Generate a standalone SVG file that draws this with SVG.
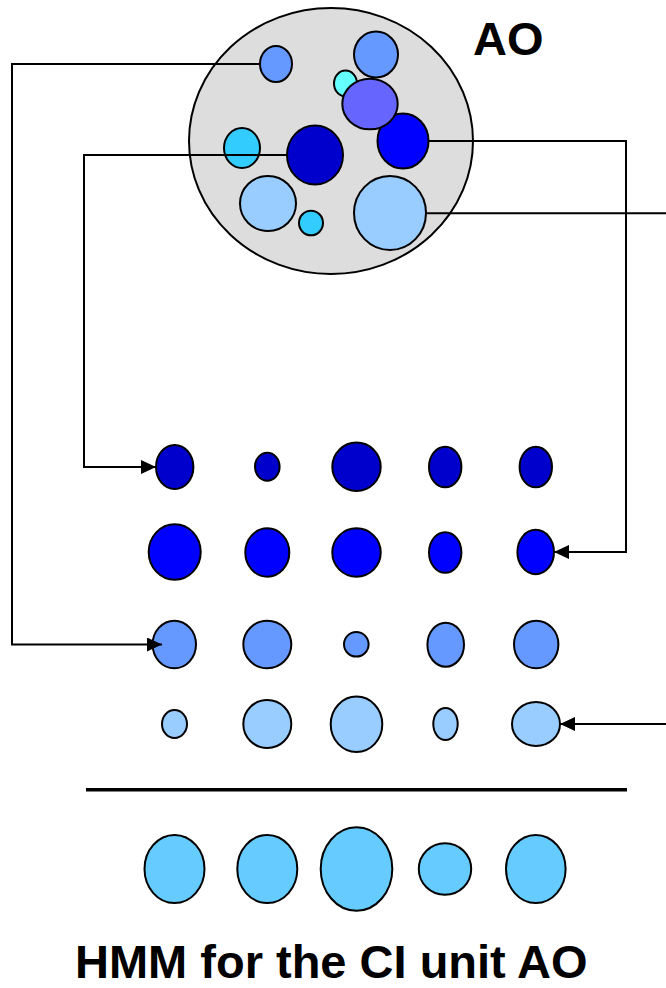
<svg xmlns="http://www.w3.org/2000/svg" width="666" height="988" viewBox="0 0 666 988">
<style>
.n{stroke:#000;stroke-width:2}
.c{fill:none;stroke:#000;stroke-width:2}
.t{font-family:"Liberation Sans",Arial,sans-serif;font-weight:bold;font-size:47px;fill:#000}
.dk{fill:#0000CC}.bl{fill:#0000FF}.md{fill:#6699FF}.lt{fill:#99CCFF}.sk{fill:#66CCFF}.cy{fill:#33CCFF}.aq{fill:#66FFFF}.pu{fill:#6666FF}
</style>
<defs>
<marker id="arr" viewBox="0 0 15 14" markerWidth="15" markerHeight="14" refX="15" refY="7" orient="auto" markerUnits="userSpaceOnUse">
<path d="M0,0 L15,7 L0,14 z" fill="#000"/>
</marker>
</defs>
<g id="ao-unit">
<ellipse class="n" cx="331" cy="141" rx="142" ry="133" fill="#DDDDDD"/>
<ellipse class="n md" cx="276" cy="64" rx="16" ry="18"/>
<ellipse class="n aq" cx="345.5" cy="83.5" rx="11.5" ry="13"/>
<ellipse class="n md" cx="376" cy="54.5" rx="22" ry="23"/>
<ellipse class="n bl" cx="403" cy="141" rx="25.5" ry="27.5"/>
<ellipse class="n pu" cx="370" cy="104" rx="27.7" ry="25.3"/>
<ellipse class="n cy" cx="242" cy="148" rx="18" ry="20"/>
<ellipse class="n dk" cx="315" cy="155" rx="28" ry="29.6"/>
<ellipse class="n lt" cx="268" cy="203.5" rx="28" ry="27.5"/>
<ellipse class="n cy" cx="311" cy="223" rx="12" ry="12.3"/>
<ellipse class="n lt" cx="390" cy="213" rx="36" ry="37"/>
</g>
<text id="ao-label" class="t" x="473" y="55">AO</text>
<g id="row1">
<ellipse class="n dk" cx="174.7" cy="467" rx="18.7" ry="22"/>
<ellipse class="n dk" cx="267.3" cy="466.7" rx="12.3" ry="14"/>
<ellipse class="n dk" cx="356.5" cy="466.8" rx="24.2" ry="24.2"/>
<ellipse class="n dk" cx="445.2" cy="467" rx="16.2" ry="20.3"/>
<ellipse class="n dk" cx="535.8" cy="467" rx="16.2" ry="20.3"/>
</g>
<g id="row2">
<ellipse class="n bl" cx="174.7" cy="552" rx="26" ry="27.8"/>
<ellipse class="n bl" cx="267.3" cy="552.5" rx="22" ry="24.2"/>
<ellipse class="n bl" cx="356.5" cy="552.5" rx="24.2" ry="24.2"/>
<ellipse class="n bl" cx="445.2" cy="552.5" rx="16.2" ry="20.2"/>
<ellipse class="n bl" cx="535.7" cy="552" rx="18.3" ry="22.2"/>
</g>
<g id="row3">
<ellipse class="n md" cx="174.3" cy="644.5" rx="21.7" ry="23.8"/>
<ellipse class="n md" cx="267.3" cy="644.5" rx="24" ry="23.8"/>
<ellipse class="n md" cx="356.3" cy="644.3" rx="12.3" ry="12.3"/>
<ellipse class="n md" cx="445.7" cy="644.7" rx="18.3" ry="22"/>
<ellipse class="n md" cx="536.2" cy="644.5" rx="22.2" ry="23.8"/>
</g>
<g id="row4">
<ellipse class="n lt" cx="174.5" cy="724" rx="12.5" ry="14"/>
<ellipse class="n lt" cx="267.3" cy="724" rx="24" ry="24"/>
<ellipse class="n lt" cx="356.5" cy="724.3" rx="25.8" ry="27.7"/>
<ellipse class="n lt" cx="445.5" cy="724" rx="12.2" ry="16"/>
<ellipse class="n lt" cx="536" cy="724" rx="24" ry="22"/>
</g>
<g id="divider">
<line x1="86" y1="789.7" x2="627" y2="789.7" stroke="#000" stroke-width="3.5"/>
</g>
<g id="row5">
<ellipse class="n sk" cx="174.5" cy="869" rx="30" ry="34"/>
<ellipse class="n sk" cx="267.3" cy="869" rx="30" ry="34"/>
<ellipse class="n sk" cx="356.5" cy="869" rx="35.8" ry="41.7"/>
<ellipse class="n sk" cx="445" cy="869" rx="26.2" ry="25.8"/>
<ellipse class="n sk" cx="535.8" cy="869" rx="29.8" ry="34"/>
</g>
<g id="connectors">
<polyline class="c" points="260,64 12,64 12,644.5 162,644.5" marker-end="url(#arr)"/>
<polyline class="c" points="287,155 84,155 84,467 156,467" marker-end="url(#arr)"/>
<polyline class="c" points="428.5,141 626,141 626,552 554,552" marker-end="url(#arr)"/>
<line class="c" x1="426" y1="213.3" x2="666" y2="213.3"/>
<line class="c" x1="666" y1="724" x2="560" y2="724" marker-end="url(#arr)"/>
</g>
<text id="caption" class="t" x="75" y="978">HMM for the CI unit AO</text>
</svg>
